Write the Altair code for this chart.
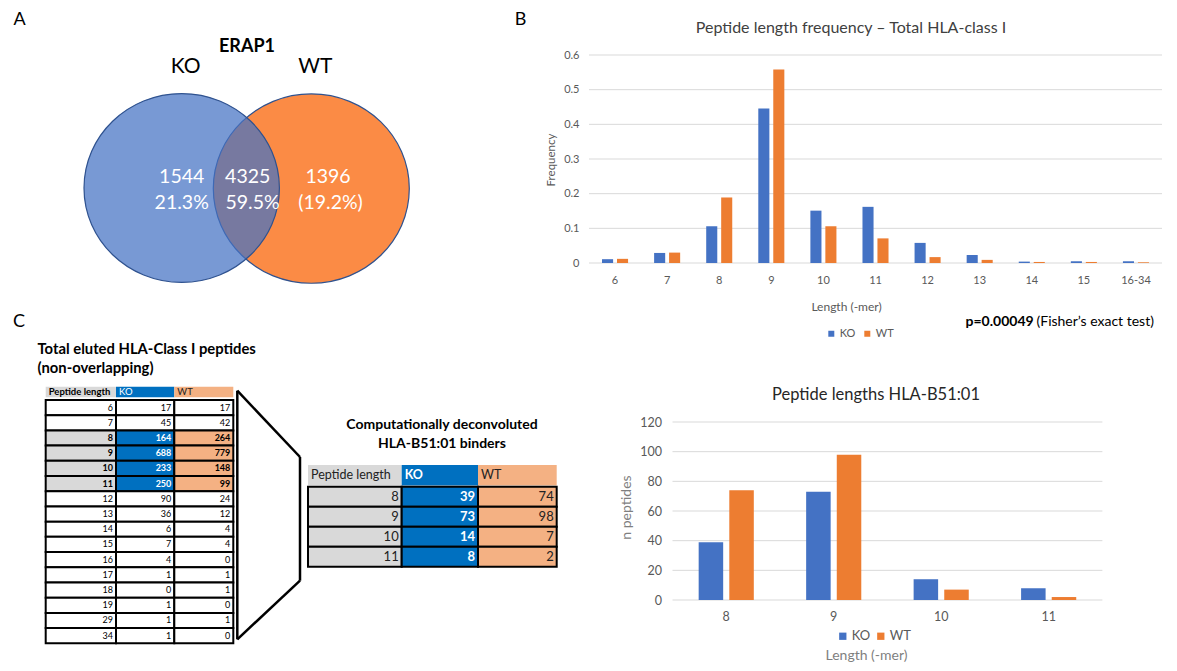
import altair as alt
import pandas as pd

# ---------------- data ----------------
venn_sets = ["WT", "KO"]
venn_regions = ["KO only", "both", "WT only"]
venn_region_counts = ["1544", "4325", "1396"]
venn_region_pcts = ["21.3%", "59.5%", "(19.2%)"]

series = ["KO", "WT"]

freq_lengths = ["6", "7", "8", "9", "10", "11", "12", "13", "14", "15", "16-34"]
freq_ko = [0.011, 0.029, 0.106, 0.446, 0.151, 0.162, 0.058, 0.023, 0.004, 0.005, 0.005]
freq_wt = [0.012, 0.030, 0.189, 0.558, 0.106, 0.071, 0.017, 0.009, 0.003, 0.003, 0.002]
freq_ticks = [0, 0.1, 0.2, 0.3, 0.4, 0.5, 0.6]

total_lengths = ["6", "7", "8", "9", "10", "11", "12", "13", "14", "15", "16", "17", "18", "19", "29", "34"]
total_ko = [17, 45, 164, 688, 233, 250, 90, 36, 6, 7, 4, 1, 0, 1, 1, 1]
total_wt = [17, 42, 264, 779, 148, 99, 24, 12, 4, 4, 0, 1, 1, 0, 1, 0]

b51_lengths = ["8", "9", "10", "11"]
b51_ko = [39, 73, 14, 8]
b51_wt = [74, 98, 7, 2]
b51_ticks = [0, 20, 40, 60, 80, 100, 120]

header_labels = ["Peptide length", "KO", "WT"]

# ---------------- layout ----------------
W, H = 1161, 655
M = 8
FONT = "Lato"
BLUE, ORANGE = "#4472C4", "#ED7D31"
HL_FILLS = ["#d9d9d9", "#0070c0", "#f4b183"]
REGION_COUNT_X = [181.7, 247.7, 328]
REGION_PCT_X = [181.7, 252.5, 330.5]


def px(v):
    return v - M


def label(text, x, y, size, weight="normal", color="black", align="center", angle=0):
    return alt.Chart(pd.DataFrame({"t": [text]})).mark_text(
        font=FONT, fontSize=size, fontWeight=weight, color=color, align=align,
        baseline="middle", angle=angle
    ).encode(x=alt.value(px(x)), y=alt.value(px(y)), text="t:N")


layers = []

# ---------------- A: Venn ----------------
venn_df = pd.DataFrame({"set": venn_sets})
set_x = alt.X("set:N", scale=alt.Scale(domain=["KO", "WT"], range=[px(181.7), px(311.3)], padding=0),
              axis=None)
ELL = "M-1,0A1,0.966,0,1,1,1,0A1,0.966,0,1,1,-1,0Z"
wt_circle = alt.Chart(venn_df).transform_filter(alt.datum.set == "WT").mark_point(
    shape=ELL, filled=True, size=(2 * 98) ** 2, fill="#FB8B45", fillOpacity=1,
    stroke="#2F528F", strokeWidth=1.2, strokeOpacity=1
).encode(x=set_x, y=alt.value(px(188.6)))
ko_circle = alt.Chart(venn_df).transform_filter(alt.datum.set == "KO").mark_point(
    shape=ELL, filled=True, size=(2 * 97.7) ** 2, fill=BLUE, fillOpacity=0.72,
    stroke="#2F528F", strokeWidth=1.2, strokeOpacity=1
).encode(x=set_x, y=alt.value(px(188)))
set_labels = alt.Chart(pd.DataFrame({"set": series})).mark_text(
    font=FONT, fontSize=21, color="black", dx=4, baseline="middle"
).encode(x=set_x, y=alt.value(px(67)), text="set:N")
layers.append(alt.layer(wt_circle, ko_circle, set_labels))

region_df = pd.DataFrame({"region": venn_regions, "count": venn_region_counts, "pct": venn_region_pcts})
for i, reg in enumerate(venn_regions):
    sub = alt.Chart(region_df).transform_filter(alt.datum.region == reg)
    layers.append(sub.mark_text(font=FONT, fontSize=19.5, color="white", baseline="middle").encode(
        x=alt.value(px(REGION_COUNT_X[i])), y=alt.value(px(177)), text="count:N"))
    layers.append(sub.mark_text(font=FONT, fontSize=19.5, color="white", baseline="middle").encode(
        x=alt.value(px(REGION_PCT_X[i])), y=alt.value(px(203)), text="pct:N"))

layers += [
    label("A", 19.5, 19.5, 18),
    label("ERAP1", 247, 47, 18, weight="bold"),
    label("B", 520.5, 19.5, 18),
    label("C", 19, 321.5, 18),
]

# ---------------- B: frequency chart ----------------
b_df = pd.DataFrame({"len": freq_lengths * 2, "series": ["KO"] * len(freq_lengths) + ["WT"] * len(freq_lengths),
                     "freq": freq_ko + freq_wt})
grid_b = pd.DataFrame({"freq": freq_ticks})
axis_common = dict(grid=False, domain=False, ticks=False, tickSize=0, labelFont=FONT, titleFont=FONT,
                   titleFontWeight="normal", titleBaseline="middle")
yB = alt.Y("freq:Q", title="Frequency",
           scale=alt.Scale(domain=[0, 0.6], range=[px(263), px(55)], nice=False, zero=True),
           axis=alt.Axis(orient="left", offset=-px(589), values=freq_ticks, format=".1~f", labelPadding=10,
                         labelFontSize=11, labelColor="#595959", titleFontSize=11.5, titleColor="#595959",
                         titleX=551.5 - 589, titleY=px(159.5), titleAngle=-90, titleAlign="center",
                         **axis_common))
xB = alt.X("len:N", title="Length (-mer)", sort=freq_lengths,
           scale=alt.Scale(domain=freq_lengths, range=[px(589), px(1162)], paddingInner=0.5, paddingOuter=0.25),
           axis=alt.Axis(orient="bottom", offset=px(263) - H, labelAngle=0, labelPadding=11, labelFontSize=11,
                         labelColor="#595959", titleFontSize=12, titleColor="#595959", titleX=px(846),
                         titleY=306 - 263, titleAlign="center", **axis_common))
grid_b_chart = alt.Chart(grid_b).mark_rule(color="#d9d9d9", strokeWidth=1).encode(
    y=yB, x=alt.value(px(589)), x2=alt.value(px(1162)))
bars_b = alt.Chart(b_df).mark_bar().encode(
    x=xB, y=yB,
    xOffset=alt.XOffset("series:N", scale=alt.Scale(domain=series, paddingInner=0.26, paddingOuter=0)),
    color=alt.Color("series:N", scale=alt.Scale(domain=series, range=[BLUE, ORANGE]),
                    legend=alt.Legend(orient="none", legendX=px(825.8), legendY=px(328), direction="horizontal",
                                      title=None, symbolType="square", symbolSize=36, symbolStrokeWidth=0,
                                      labelFont=FONT, labelFontSize=11, labelColor="#595959", labelOffset=3,
                                      columnPadding=6, padding=0)))
layers.append(alt.layer(grid_b_chart, bars_b))
layers += [
    label("Peptide length frequency \u2013 Total HLA-class I", 851, 28, 16, color="#404040"),
    label("p=0.00049", 965.5, 322, 14, weight="bold", align="left"),
    label("(Fisher\u2019s exact test)", 1036.5, 322, 14, align="left"),
]

# ---------------- C: tables ----------------
def table(df, fields, cols, y_enc, text_size, hl_text_colors, hl_weights, nm_weights,
          header_y0, header_y1, header_size, header_text_colors, header_weights):
    parts = []
    for i, (x0, x1) in enumerate(cols):
        parts.append(alt.Chart(pd.DataFrame({"h": [header_labels[i]]})).mark_rect(fill=HL_FILLS[i]).encode(
            x=alt.value(px(x0)), x2=alt.value(px(x1)), y=alt.value(px(header_y0)), y2=alt.value(px(header_y1))))
        parts.append(alt.Chart(pd.DataFrame({"h": [header_labels[i]]})).mark_text(
            font=FONT, fontSize=header_size, fontWeight=header_weights[i], color=header_text_colors[i],
            align="left", baseline="middle").encode(
            x=alt.value(px(x0 + 3)), y=alt.value(px((header_y0 + header_y1) / 2)), text="h:N"))
    for i, (x0, x1) in enumerate(cols):
        parts.append(alt.Chart(df).mark_rect(stroke="black", strokeWidth=2).encode(
            y=y_enc, x=alt.value(px(x0)), x2=alt.value(px(x1)),
            fill=alt.condition(alt.datum.hl, alt.value(HL_FILLS[i]), alt.value("white"))))
    for i, (f, (x0, x1)) in enumerate(zip(fields, cols)):
        for flag in (True, False):
            parts.append(alt.Chart(df).transform_filter("datum.hl" if flag else "!datum.hl").mark_text(
                font=FONT, fontSize=text_size, align="right", baseline="middle",
                fontWeight=hl_weights[i] if flag else nm_weights[i],
                color=hl_text_colors[i] if flag else "black").encode(
                y=y_enc, x=alt.value(px(x1 - 3)), text=f"{f}:N"))
    return alt.layer(*parts)


c_df = pd.DataFrame({"len": total_lengths, "ko": total_ko, "wt": total_wt})
c_df["hl"] = c_df["len"].isin(b51_lengths)
yC = alt.Y("len:N", scale=alt.Scale(domain=total_lengths, range=[px(400), px(643.3)],
                                    paddingInner=0, paddingOuter=0), axis=None)
colsC = [(45.7, 116), (116, 174.3), (174.3, 233.3)]
layers.append(table(c_df, ["len", "ko", "wt"], colsC, yC, 9, ["black", "white", "black"],
                    ["bold", "bold", "bold"], ["normal", "normal", "normal"],
                    386.7, 397.3, 9.5, ["black", "white", "#222222"], ["bold", "normal", "normal"]))
layers += [
    label("Total eluted HLA-Class I peptides", 37.5, 350, 14.8, weight="bold", align="left"),
    label("(non-overlapping)", 37.5, 369, 14.8, weight="bold", align="left"),
]

# connector (trapezoid)
trap = [((237.3, 390.7), (300, 457)), ((300, 457), (300, 580.7)),
        ((300, 580.7), (237.3, 639.3)), ((237.3, 639.3), (237.3, 390.7))]
for (xa, ya), (xb, yb) in trap:
    layers.append(alt.Chart(pd.DataFrame({"s": [0]})).mark_rule(color="black", strokeWidth=2.5).encode(
        x=alt.value(px(xa)), y=alt.value(px(ya)), x2=alt.value(px(xb)), y2=alt.value(px(yb))))

m_df = pd.DataFrame({"len": b51_lengths, "ko": b51_ko, "wt": b51_wt})
m_df["hl"] = True
yM = alt.Y("len:N", scale=alt.Scale(domain=b51_lengths, range=[px(486.7), px(566.7)],
                                    paddingInner=0, paddingOuter=0), axis=None)
colsM = [(308, 401.7), (401.7, 478), (478, 556.7)]
layers.append(table(m_df, ["len", "ko", "wt"], colsM, yM, 13, ["#222222", "white", "#222222"],
                    ["normal", "bold", "normal"], ["normal", "normal", "normal"],
                    465, 485.5, 12.5, ["#222222", "white", "#222222"], ["normal", "bold", "normal"]))
layers += [
    label("Computationally deconvoluted", 442, 425, 14, weight="bold"),
    label("HLA-B51:01 binders", 442, 444, 14, weight="bold"),
]

# ---------------- D: HLA-B51:01 chart ----------------
d_df = pd.DataFrame({"len": b51_lengths * 2, "series": ["KO"] * len(b51_lengths) + ["WT"] * len(b51_lengths),
                     "n": b51_ko + b51_wt})
grid_d = pd.DataFrame({"n": b51_ticks})
yD = alt.Y("n:Q", title="n peptides",
           scale=alt.Scale(domain=[0, 120], range=[px(600), px(422)], nice=False, zero=True),
           axis=alt.Axis(orient="left", offset=-px(672.5), values=b51_ticks, format="d", labelPadding=11,
                         labelFontSize=12.5, labelColor="#595959", titleFontSize=14, titleColor="#7f7f7f",
                         titleX=626 - 672.5, titleY=px(507), titleAngle=-90, titleAlign="center", **axis_common))
xD = alt.X("len:N", title="Length (-mer)", sort=b51_lengths,
           scale=alt.Scale(domain=b51_lengths, range=[px(672.5), px(1102.4)], paddingInner=0.487,
                           paddingOuter=0.2435),
           axis=alt.Axis(orient="bottom", offset=px(600) - H, labelAngle=0, labelPadding=10, labelFontSize=12.5,
                         labelColor="#595959", titleFontSize=14, titleColor="#7f7f7f", titleX=px(866),
                         titleY=655 - 600, titleAlign="center", **axis_common))
grid_d_chart = alt.Chart(grid_d).mark_rule(color="#d9d9d9", strokeWidth=1).encode(
    y=yD, x=alt.value(px(672.5)), x2=alt.value(px(1102.4)))
bars_d = alt.Chart(d_df).mark_bar().encode(
    x=xD, y=yD,
    xOffset=alt.XOffset("series:N", scale=alt.Scale(domain=series, paddingInner=0.2, paddingOuter=0)),
    color=alt.Color("series:N", scale=alt.Scale(domain=series, range=[BLUE, ORANGE]),
                    legend=alt.Legend(orient="none", legendX=px(836.3), legendY=px(629.5), direction="horizontal",
                                      title=None, symbolType="square", symbolSize=53, symbolStrokeWidth=0,
                                      labelFont=FONT, labelFontSize=13, labelColor="#595959", labelOffset=2.5,
                                      columnPadding=4, padding=0)))
layers.append(alt.layer(grid_d_chart, bars_d))
layers.append(label("Peptide lengths HLA-B51:01", 876, 395, 16.5, color="#262626"))

chart = alt.layer(*layers).properties(
    width=W, height=H, autosize=alt.AutoSizeParams(type="none"), padding=0
).resolve_scale(
    x="independent", y="independent", xOffset="independent", color="independent"
).resolve_axis(x="independent", y="independent").resolve_legend(color="independent").configure_view(stroke=None)

chart.save("out.html", embed_options={"renderer": "svg", "actions": False})
